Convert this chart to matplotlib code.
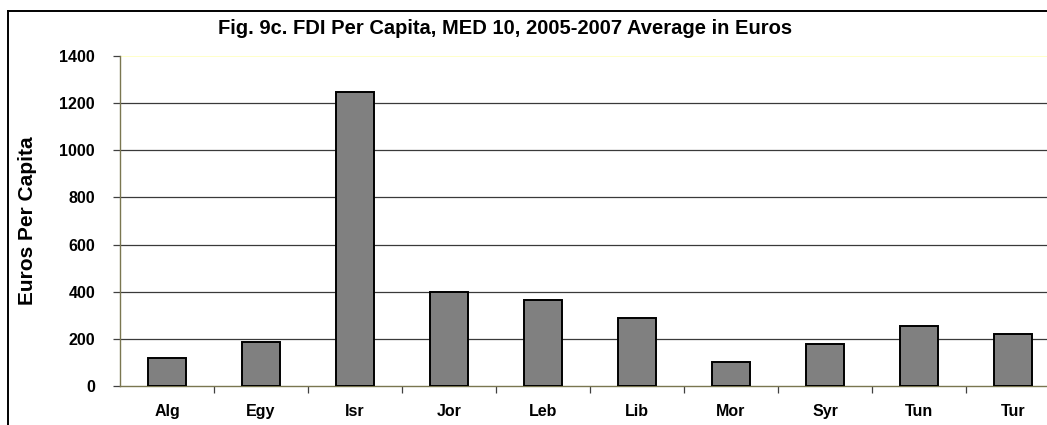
import matplotlib
matplotlib.use("Agg")
import matplotlib.pyplot as plt
from matplotlib.lines import Line2D

categories = ["Alg", "Egy", "Isr", "Jor", "Leb", "Lib", "Mor", "Syr", "Tun", "Tur"]
values = [120, 187, 1247, 400, 366, 290, 103, 180, 256, 222]
yticks = [0, 200, 400, 600, 800, 1000, 1200, 1400]

plt.rcParams['font.family'] = ['Liberation Sans', 'DejaVu Sans']

W, H = 1047, 425
fig = plt.figure(figsize=(W / 100, H / 100), dpi=100)
fig.patch.set_facecolor("white")

# outer chart border (top and left edges visible)
bx, by = 7.5 / W, (H - 10.5) / H
fig.add_artist(Line2D([bx, 1.0], [by, by], transform=fig.transFigure, color="black", linewidth=1.4))
fig.add_artist(Line2D([bx, bx], [0.0, by], transform=fig.transFigure, color="black", linewidth=1.4))

left, right = 120, 1060
top, bottom = 56, 386
ax = fig.add_axes([left / W, (H - bottom) / H, (right - left) / W, (bottom - top) / H])

x = list(range(len(categories)))
ax.bar(x, values, width=0.41, color="#808080", edgecolor="black", linewidth=1.4, zorder=3)

ax.set_xlim(-0.5, len(categories) - 0.5)
ax.set_ylim(0, 1400)

ax.set_yticks(yticks)
ax.set_yticklabels([str(v) for v in yticks], fontsize=11.5, fontweight="bold")
for v in yticks:
    if v == 1400:
        ax.axhline(v, color="#ffffc0", linewidth=1.2, zorder=1)
    elif v > 0:
        ax.axhline(v, color="#3a3a3a", linewidth=0.9, zorder=1)

ax.set_xticks(x)
ax.set_xticklabels(categories, fontsize=11.5, fontweight="bold")
ax.set_xticks([i - 0.5 for i in range(1, len(categories) + 1)], minor=True)
ax.tick_params(axis="x", which="major", length=0, pad=13)
ax.tick_params(axis="x", which="minor", length=5, direction="out", color="#404040", width=0.9)
ax.tick_params(axis="y", which="major", length=5, direction="out", color="#404040", width=0.9, pad=13)

for s in ["top", "right"]:
    ax.spines[s].set_visible(False)
for s in ["left", "bottom"]:
    ax.spines[s].set_color("#7a7650")
    ax.spines[s].set_linewidth(1.0)

ax.set_ylabel("Euros Per Capita", fontsize=15, fontweight="bold")
ax.yaxis.set_label_coords(-(120 - 37) / (right - left), 0.5)

fig.text(505 / W, (H - 28) / H, "Fig. 9c. FDI Per Capita, MED 10, 2005-2007 Average in Euros",
         ha="center", va="center", fontsize=14.5, fontweight="bold")

fig.savefig("out.png", dpi=100)
